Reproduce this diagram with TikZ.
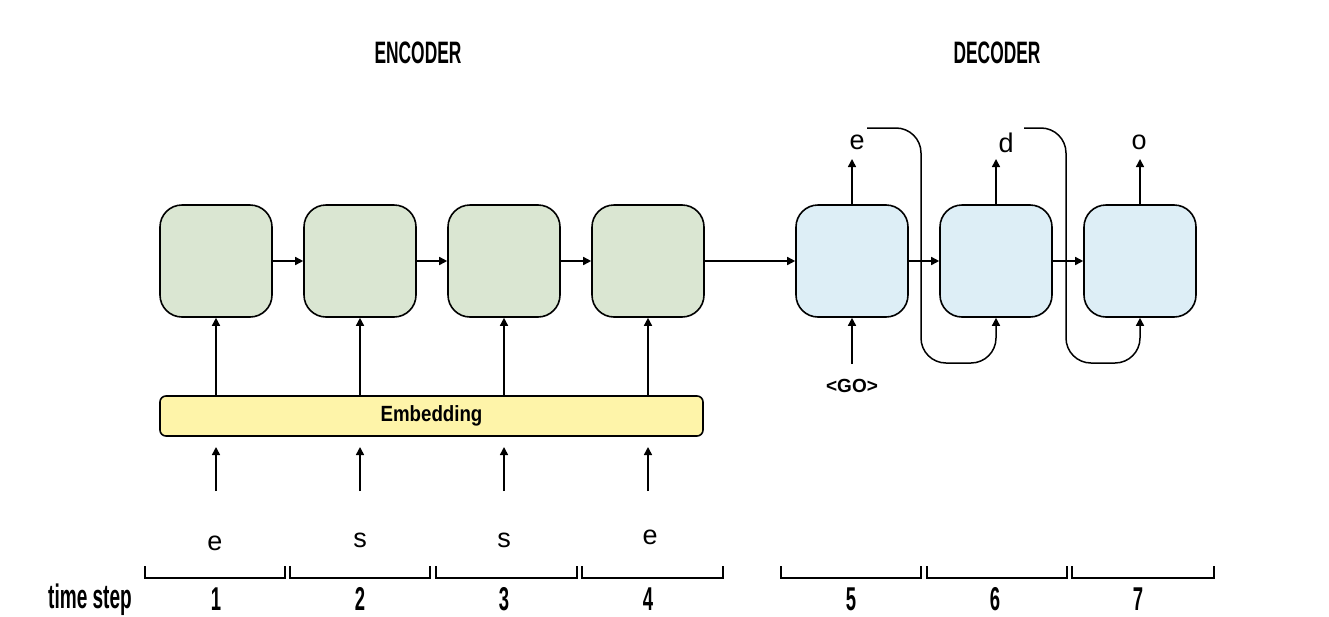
\documentclass[tikz,border=0pt]{standalone}
\usepackage{fontspec}
\setmainfont{Liberation Sans}
\newfontfamily\condfont[FakeStretch=0.56]{Liberation Sans}
\newfontfamily\embfont[FakeStretch=0.85]{Liberation Sans}
\usetikzlibrary{arrows.meta}
\definecolor{encfill}{HTML}{DAE6D2}
\definecolor{decfill}{HTML}{DDEEF6}
\definecolor{embfill}{HTML}{FEF4A9}
\tikzset{
  cell/.style={draw=black, line width=1.6pt, rounded corners=22pt, minimum width=112pt, minimum height=112pt, inner sep=0pt},
  enccell/.style={cell, fill=encfill},
  deccell/.style={cell, fill=decfill},
  conn/.style={line width=1.5pt, -{Triangle[length=8pt,width=8pt]}},
  plain/.style={line width=1.5pt},
  lettr/.style={font=\fontsize{27}{27}\selectfont, inner sep=0pt},
  numlab/.style={font=\condfont\bfseries\fontsize{33}{33}\selectfont, inner sep=0pt},
  bracket/.style={line width=1.6pt},
}
\begin{document}
\begin{tikzpicture}[x=1pt,y=-1pt]
\useasboundingbox (0,0) rectangle (1329,616);
% titles
\node[font=\condfont\bfseries\fontsize{31}{31}\selectfont, inner sep=0pt] (enct) at (418,53) {ENCODER};
\node[font=\condfont\bfseries\fontsize{31}{31}\selectfont, inner sep=0pt] (dect) at (997,53) {DECODER};
% encoder cells
\node[enccell] (e1) at (216,261) {};
\node[enccell] (e2) at (360,261) {};
\node[enccell] (e3) at (504,261) {};
\node[enccell] (e4) at (648,261) {};
% decoder cells
\node[deccell] (d1) at (852,261) {};
\node[deccell] (d2) at (996,261) {};
\node[deccell] (d3) at (1140,261) {};
% embedding
\node[draw=black, line width=1.6pt, rounded corners=6pt, fill=embfill, minimum width=543pt, minimum height=40pt, inner sep=0pt, font=\embfont\bfseries\fontsize{22}{22}\selectfont] (emb) at (431.5,416) {Embedding};
% horizontal connections
\draw[conn] (e1.east) -- (e2.west);
\draw[conn] (e2.east) -- (e3.west);
\draw[conn] (e3.east) -- (e4.west);
\draw[conn] (e4.east) -- (d1.west);
\draw[conn] (d1.east) -- (d2.west);
\draw[conn] (d2.east) -- (d3.west);
% embedding to cells
\foreach \c/\x in {e1/216,e2/360,e3/504,e4/648}{
  \draw[conn] (\x,396) -- (\c.south);
}
% input arrows
\foreach \i/\x in {1/216,2/360,3/504,4/648}{
  \coordinate (in\i) at (\x,491);
  \draw[conn] (in\i) -- (\x,447);
}
% input letters
\node[lettr] (l1) at (215,543) {e};
\node[lettr] (l2) at (360,540) {s};
\node[lettr] (l3) at (504,540) {s};
\node[lettr] (l4) at (650,537) {e};
% outputs
\node[lettr] (o1) at (857,142) {e};
\node[lettr] (o2) at (1006,143) {d};
\node[lettr] (o3) at (1139,142) {o};
\draw[conn] (d1.north) -- (852,159);
\draw[conn] (d2.north) -- (996,159);
\draw[conn] (d3.north) -- (1140,159);
% GO
\node[font=\bfseries\fontsize{19}{19}\selectfont, inner sep=0pt] (go) at (852,386) {<GO>};
\draw[conn] (852,364) -- (d1.south);
% feedback
\coordinate (f1) at (867,128);
\coordinate (f2) at (1024,128);
\draw[plain, -{Triangle[length=8pt,width=8pt]}, rounded corners=25pt] (f1) -- (921,128) -- (921,363) -- (996,363) -- (d2.south);
\draw[plain, -{Triangle[length=8pt,width=8pt]}, rounded corners=25pt] (f2) -- (1066,128) -- (1066,363) -- (1140,363) -- (d3.south);
% brackets
\foreach \a/\b in {145/285, 290/430, 436/577, 582/723, 781/921, 927/1067, 1072/1214}{
  \draw[bracket] (\a,566) -- (\a,578) -- (\b,578) -- (\b,566);
}
% numbers
\node[font=\condfont\bfseries\fontsize{34}{34}\selectfont, inner sep=0pt] (ts) at (90,600) {time step};
\node[numlab] (n1) at (216,599) {1};
\node[numlab] (n2) at (360,599) {2};
\node[numlab] (n3) at (504,599) {3};
\node[numlab] (n4) at (648,599) {4};
\node[numlab] (n5) at (851,599) {5};
\node[numlab] (n6) at (995,599) {6};
\node[numlab] (n7) at (1138,599) {7};
\end{tikzpicture}
\end{document}
